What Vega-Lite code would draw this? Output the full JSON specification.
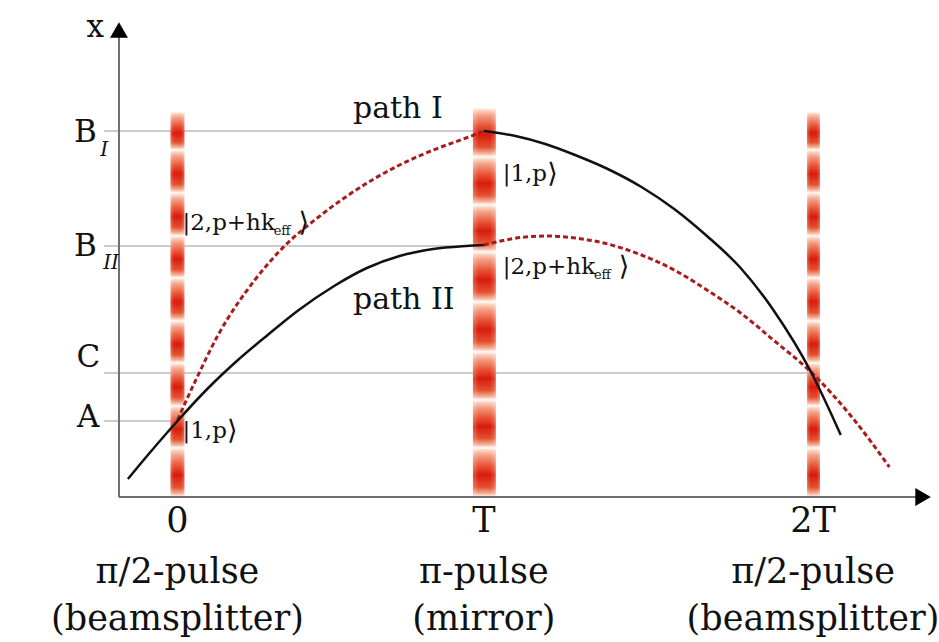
{
  "$schema": "https://vega.github.io/schema/vega-lite/v6.json",
  "width": 939,
  "height": 642,
  "padding": 0,
  "autosize": {"type": "fit", "contains": "padding"},
  "background": "white",
  "config": {"view": {"stroke": null}},
  "datasets": {
    "levels": [
      {"level": "B_I", "t0": 105, "t1": 488, "x": 131},
      {"level": "B_II", "t0": 105, "t1": 488, "x": 246},
      {"level": "C", "t0": 105, "t1": 820, "x": 373},
      {"level": "A", "t0": 105, "t1": 179, "x": 421}
    ],
    "axes": [
      {"axis": "x", "t0": 120, "t1": 120, "x0": 32, "x1": 497},
      {"axis": "t", "t0": 120, "t1": 924, "x0": 497, "x1": 497}
    ],
    "arrows": [
      {"axis": "x", "t": 120, "x": 30, "dir": "up"},
      {"axis": "t", "t": 931, "x": 497, "dir": "right"}
    ],
    "bands": [
      {"pulse": "0", "t0": 172, "t1": 186, "x0": 112, "x1": 150},
      {"pulse": "0", "t0": 172, "t1": 186, "x0": 150, "x1": 193},
      {"pulse": "0", "t0": 172, "t1": 186, "x0": 193, "x1": 236},
      {"pulse": "0", "t0": 172, "t1": 186, "x0": 236, "x1": 278},
      {"pulse": "0", "t0": 172, "t1": 186, "x0": 278, "x1": 321},
      {"pulse": "0", "t0": 172, "t1": 186, "x0": 321, "x1": 363},
      {"pulse": "0", "t0": 172, "t1": 186, "x0": 363, "x1": 406},
      {"pulse": "0", "t0": 172, "t1": 186, "x0": 406, "x1": 448},
      {"pulse": "0", "t0": 172, "t1": 186, "x0": 448, "x1": 497},
      {"pulse": "T", "t0": 477, "t1": 500, "x0": 108, "x1": 157},
      {"pulse": "T", "t0": 477, "t1": 500, "x0": 157, "x1": 205},
      {"pulse": "T", "t0": 477, "t1": 500, "x0": 205, "x1": 252},
      {"pulse": "T", "t0": 477, "t1": 500, "x0": 252, "x1": 302},
      {"pulse": "T", "t0": 477, "t1": 500, "x0": 302, "x1": 352},
      {"pulse": "T", "t0": 477, "t1": 500, "x0": 352, "x1": 400},
      {"pulse": "T", "t0": 477, "t1": 500, "x0": 400, "x1": 448},
      {"pulse": "T", "t0": 477, "t1": 500, "x0": 448, "x1": 497},
      {"pulse": "2T", "t0": 814, "t1": 827, "x0": 112, "x1": 150},
      {"pulse": "2T", "t0": 814, "t1": 827, "x0": 150, "x1": 193},
      {"pulse": "2T", "t0": 814, "t1": 827, "x0": 193, "x1": 236},
      {"pulse": "2T", "t0": 814, "t1": 827, "x0": 236, "x1": 278},
      {"pulse": "2T", "t0": 814, "t1": 827, "x0": 278, "x1": 321},
      {"pulse": "2T", "t0": 814, "t1": 827, "x0": 321, "x1": 363},
      {"pulse": "2T", "t0": 814, "t1": 827, "x0": 363, "x1": 406},
      {"pulse": "2T", "t0": 814, "t1": 827, "x0": 406, "x1": 448},
      {"pulse": "2T", "t0": 814, "t1": 827, "x0": 448, "x1": 497}
    ],
    "solid": [
      {"seg": "II-a", "t": 129, "x": 479},
      {"seg": "II-a", "t": 150, "x": 454},
      {"seg": "II-a", "t": 179, "x": 421},
      {"seg": "II-a", "t": 210, "x": 388},
      {"seg": "II-a", "t": 240, "x": 360},
      {"seg": "II-a", "t": 270, "x": 335},
      {"seg": "II-a", "t": 300, "x": 311},
      {"seg": "II-a", "t": 337, "x": 286},
      {"seg": "II-a", "t": 370, "x": 268},
      {"seg": "II-a", "t": 403, "x": 256},
      {"seg": "II-a", "t": 437, "x": 249},
      {"seg": "II-a", "t": 470, "x": 246},
      {"seg": "II-a", "t": 488, "x": 245},
      {"seg": "I-b", "t": 488, "x": 131},
      {"seg": "I-b", "t": 520, "x": 136},
      {"seg": "I-b", "t": 550, "x": 144},
      {"seg": "I-b", "t": 580, "x": 155},
      {"seg": "I-b", "t": 613, "x": 169},
      {"seg": "I-b", "t": 647, "x": 187},
      {"seg": "I-b", "t": 680, "x": 209},
      {"seg": "I-b", "t": 713, "x": 236},
      {"seg": "I-b", "t": 747, "x": 268},
      {"seg": "I-b", "t": 780, "x": 310},
      {"seg": "I-b", "t": 818, "x": 372},
      {"seg": "I-b", "t": 848, "x": 435}
    ],
    "dashed": [
      {"seg": "I-a", "t": 179, "x": 420},
      {"seg": "I-a", "t": 197, "x": 381},
      {"seg": "I-a", "t": 220, "x": 335},
      {"seg": "I-a", "t": 257, "x": 280},
      {"seg": "I-a", "t": 288, "x": 245},
      {"seg": "I-a", "t": 320, "x": 218},
      {"seg": "I-a", "t": 350, "x": 196},
      {"seg": "I-a", "t": 403, "x": 165},
      {"seg": "I-a", "t": 437, "x": 150},
      {"seg": "I-a", "t": 470, "x": 138},
      {"seg": "I-a", "t": 488, "x": 131},
      {"seg": "II-b", "t": 488, "x": 245},
      {"seg": "II-b", "t": 510, "x": 240},
      {"seg": "II-b", "t": 530, "x": 237},
      {"seg": "II-b", "t": 552, "x": 236},
      {"seg": "II-b", "t": 580, "x": 238},
      {"seg": "II-b", "t": 613, "x": 244},
      {"seg": "II-b", "t": 647, "x": 255},
      {"seg": "II-b", "t": 680, "x": 270},
      {"seg": "II-b", "t": 713, "x": 290},
      {"seg": "II-b", "t": 747, "x": 313},
      {"seg": "II-b", "t": 780, "x": 340},
      {"seg": "II-b", "t": 818, "x": 372},
      {"seg": "II-b", "t": 860, "x": 418},
      {"seg": "II-b", "t": 897, "x": 467}
    ],
    "bigLabels": [
      {"label": "x", "t": 96, "x": 28},
      {"label": "B", "t": 86, "x": 133},
      {"label": "B", "t": 86, "x": 247},
      {"label": "C", "t": 89, "x": 358},
      {"label": "A", "t": 89, "x": 418}
    ],
    "subs": [
      {"label": "I", "t": 105, "x": 150},
      {"label": "II", "t": 112, "x": 263}
    ],
    "paths": [
      {"label": "path I", "t": 356, "x": 118},
      {"label": "path II", "t": 356, "x": 309}
    ],
    "kets": [
      {"label": "|2,p+hk", "t": 184, "x": 230},
      {"label": "|1,p", "t": 184, "x": 438},
      {"label": "|1,p", "t": 507, "x": 181},
      {"label": "|2,p+hk", "t": 507, "x": 274}
    ],
    "closers": [
      {"label": "⟩", "t": 301, "x": 231},
      {"label": "⟩", "t": 229, "x": 439},
      {"label": "⟩", "t": 552, "x": 182},
      {"label": "⟩", "t": 624, "x": 275}
    ],
    "ketSubs": [
      {"label": "eff", "t": 276, "x": 235},
      {"label": "eff", "t": 599, "x": 279}
    ],
    "ticks": [
      {"label": "0", "t": 179, "x": 521},
      {"label": "T", "t": 488, "x": 521},
      {"label": "2T", "t": 820, "x": 521},
      {"label": "π/2-pulse", "t": 179, "x": 572},
      {"label": "π-pulse", "t": 488, "x": 572},
      {"label": "π/2-pulse", "t": 820, "x": 572},
      {"label": "(beamsplitter)", "t": 179, "x": 619},
      {"label": "(mirror)", "t": 488, "x": 619},
      {"label": "(beamsplitter)", "t": 820, "x": 619}
    ]
  },
  "layer": [
    {
      "data": {"name": "levels"},
      "mark": {"type": "rule", "color": "#9a9a9a", "strokeWidth": 1.2},
      "encoding": {
        "x": {"field": "t0", "type": "quantitative", "scale": {"domain": [0, 939], "nice": false, "zero": false}, "axis": null},
        "x2": {"field": "t1"},
        "y": {"field": "x", "type": "quantitative", "scale": {"domain": [0, 642], "nice": false, "zero": false, "reverse": true}, "axis": null}
      }
    },
    {
      "data": {"name": "bands"},
      "mark": {
        "type": "rect",
        "fill": {
          "gradient": "linear", "x1": 0, "y1": 0, "x2": 0, "y2": 1,
          "stops": [
            {"offset": 0, "color": "#ffffff"},
            {"offset": 0.04, "color": "#fbd8c8"},
            {"offset": 0.15, "color": "#f3a085"},
            {"offset": 0.35, "color": "#e9583a"},
            {"offset": 0.55, "color": "#d81c0a"},
            {"offset": 0.8, "color": "#e4502f"},
            {"offset": 0.93, "color": "#f5b49a"},
            {"offset": 1, "color": "#ffffff"}
          ]
        }
      },
      "encoding": {
        "x": {"field": "t0", "type": "quantitative"},
        "x2": {"field": "t1"},
        "y": {"field": "x0", "type": "quantitative"},
        "y2": {"field": "x1"}
      }
    },
    {
      "data": {"name": "bands"},
      "mark": {
        "type": "rect",
        "fill": {
          "gradient": "linear", "x1": 0, "y1": 0, "x2": 1, "y2": 0,
          "stops": [
            {"offset": 0, "color": "rgba(255,255,255,0.25)"},
            {"offset": 0.25, "color": "rgba(255,255,255,0)"},
            {"offset": 0.75, "color": "rgba(255,255,255,0)"},
            {"offset": 1, "color": "rgba(255,255,255,0.25)"}
          ]
        }
      },
      "encoding": {
        "x": {"field": "t0", "type": "quantitative"},
        "x2": {"field": "t1"},
        "y": {"field": "x0", "type": "quantitative"},
        "y2": {"field": "x1"}
      }
    },
    {
      "data": {"name": "axes"},
      "mark": {"type": "rule", "color": "#6e6e6e", "strokeWidth": 2},
      "encoding": {
        "x": {"field": "t0", "type": "quantitative"},
        "x2": {"field": "t1"},
        "y": {"field": "x0", "type": "quantitative"},
        "y2": {"field": "x1"}
      }
    },
    {
      "data": {"name": "arrows"},
      "transform": [{"filter": "datum.dir == 'up'"}],
      "mark": {"type": "point", "shape": "triangle-up", "filled": true, "color": "black", "size": 320, "opacity": 1},
      "encoding": {
        "x": {"field": "t", "type": "quantitative"},
        "y": {"field": "x", "type": "quantitative"}
      }
    },
    {
      "data": {"name": "arrows"},
      "transform": [{"filter": "datum.dir == 'right'"}],
      "mark": {"type": "point", "shape": "triangle-right", "filled": true, "color": "black", "size": 320, "opacity": 1},
      "encoding": {
        "x": {"field": "t", "type": "quantitative"},
        "y": {"field": "x", "type": "quantitative"}
      }
    },
    {
      "data": {"name": "dashed"},
      "mark": {"type": "line", "color": "#a81c1c", "strokeWidth": 3, "strokeDash": [5, 3], "interpolate": "monotone"},
      "encoding": {
        "x": {"field": "t", "type": "quantitative"},
        "y": {"field": "x", "type": "quantitative"},
        "detail": {"field": "seg"}
      }
    },
    {
      "data": {"name": "solid"},
      "mark": {"type": "line", "color": "#111111", "strokeWidth": 2.5, "interpolate": "monotone"},
      "encoding": {
        "x": {"field": "t", "type": "quantitative"},
        "y": {"field": "x", "type": "quantitative"},
        "detail": {"field": "seg"}
      }
    },
    {
      "data": {"name": "bigLabels"},
      "mark": {"type": "text", "font": "DejaVu Serif", "fontSize": 31, "align": "center", "baseline": "middle", "color": "#111"},
      "encoding": {
        "x": {"field": "t", "type": "quantitative"},
        "y": {"field": "x", "type": "quantitative"},
        "text": {"field": "label"}
      }
    },
    {
      "data": {"name": "subs"},
      "mark": {"type": "text", "font": "DejaVu Serif", "fontStyle": "italic", "fontSize": 20, "align": "center", "baseline": "middle", "color": "#111"},
      "encoding": {
        "x": {"field": "t", "type": "quantitative"},
        "y": {"field": "x", "type": "quantitative"},
        "text": {"field": "label"}
      }
    },
    {
      "data": {"name": "paths"},
      "mark": {"type": "text", "font": "DejaVu Serif", "fontSize": 30, "align": "left", "baseline": "alphabetic", "color": "#111"},
      "encoding": {
        "x": {"field": "t", "type": "quantitative"},
        "y": {"field": "x", "type": "quantitative"},
        "text": {"field": "label"}
      }
    },
    {
      "data": {"name": "kets"},
      "mark": {"type": "text", "font": "DejaVu Serif", "fontSize": 23, "align": "left", "baseline": "alphabetic", "color": "#111"},
      "encoding": {
        "x": {"field": "t", "type": "quantitative"},
        "y": {"field": "x", "type": "quantitative"},
        "text": {"field": "label"}
      }
    },
    {
      "data": {"name": "closers"},
      "mark": {"type": "text", "font": "DejaVu Sans", "fontSize": 27, "align": "left", "baseline": "alphabetic", "color": "#111"},
      "encoding": {
        "x": {"field": "t", "type": "quantitative"},
        "y": {"field": "x", "type": "quantitative"},
        "text": {"field": "label"}
      }
    },
    {
      "data": {"name": "ketSubs"},
      "mark": {"type": "text", "font": "DejaVu Serif", "fontSize": 13, "align": "left", "baseline": "alphabetic", "color": "#111"},
      "encoding": {
        "x": {"field": "t", "type": "quantitative"},
        "y": {"field": "x", "type": "quantitative"},
        "text": {"field": "label"}
      }
    },
    {
      "data": {"name": "ticks"},
      "mark": {"type": "text", "font": "DejaVu Serif", "fontSize": 35, "align": "center", "baseline": "middle", "color": "#111"},
      "encoding": {
        "x": {"field": "t", "type": "quantitative"},
        "y": {"field": "x", "type": "quantitative"},
        "text": {"field": "label"}
      }
    }
  ]
}
